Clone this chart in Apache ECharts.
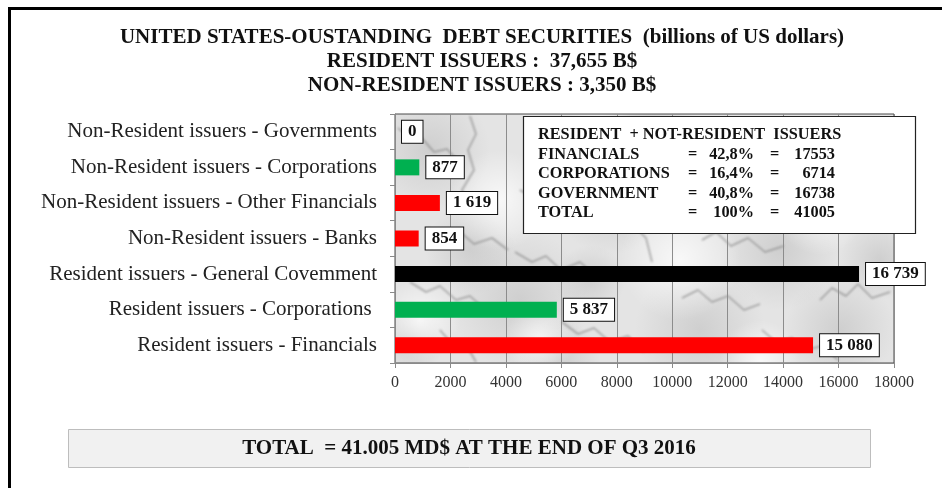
<!DOCTYPE html>
<html>
<head>
<meta charset="utf-8">
<script src="https://cdn.jsdelivr.net/npm/echarts@6/dist/echarts.min.js"></script>
<style>
  html, body { margin: 0; padding: 0; background: #fff; }
  #chart { width: 942px; height: 488px; }
</style>
</head>
<body>
<div id="chart"></div>
<script>
// Categories listed bottom-to-top (category axis starts at the bottom)
const categories = [
  'Resident issuers - Financials',
  'Resident issuers - Corporations ',
  'Resident issuers - General Covemment',
  'Non-Resident issuers - Banks',
  'Non-Resident issuers - Other Financials',
  'Non-Resident issuers - Corporations',
  'Non-Resident issuers - Governments'
];
const amounts = [15080, 5837, 16739, 854, 1619, 877, 0];
const barColors = ['#ff0000', '#00b050', '#000000', '#ff0000', '#ff0000', '#00b050', '#00b050'];
const xTicks = { min: 0, max: 18000, step: 2000 };

const titleLines = [
  'UNITED STATES-OUSTANDING  DEBT SECURITIES  (billions of US dollars)',
  'RESIDENT ISSUERS :  37,655 B$',
  'NON-RESIDENT ISSUERS : 3,350 B$'
];

// Summary table: sector, share, amount
const summaryHeader = 'RESIDENT  + NOT-RESIDENT  ISSUERS';
const summarySectors = ['FINANCIALS', 'CORPORATIONS', 'GOVERNMENT', 'TOTAL'];
const summaryShares = ['42,8%', '16,4%', '40,8%', '100%'];
const summaryAmounts = ['17553', '6714', '16738', '41005'];

const footerText = 'TOTAL  = 41.005 MD$ AT THE END OF Q3 2016';

const SERIF = '"Liberation Serif", "Times New Roman", serif';

// Marble-like texture for the plot background
function marbleCanvas() {
  const c = document.createElement('canvas');
  c.width = 942; c.height = 488;
  const g = c.getContext('2d');
  g.fillStyle = '#e4e4e4';
  g.fillRect(0, 0, 942, 488);
  const blots = [
    [430, 150, 60], [520, 300, 70], [610, 200, 55], [700, 330, 65],
    [780, 250, 60], [860, 160, 50], [470, 250, 45], [840, 330, 55],
    [650, 130, 50], [560, 360, 40], [740, 180, 45], [410, 340, 35],
    [880, 260, 40], [590, 280, 35]
  ];
  blots.forEach(([x, y, r]) => {
    const rg = g.createRadialGradient(x, y, 0, x, y, r);
    rg.addColorStop(0, 'rgba(175,175,175,0.4)');
    rg.addColorStop(1, 'rgba(175,175,175,0)');
    g.fillStyle = rg;
    g.fillRect(x - r, y - r, 2 * r, 2 * r);
  });
  const whites = [[500, 200, 50], [680, 260, 60], [820, 210, 45], [420, 320, 40], [600, 140, 40], [760, 360, 40], [540, 340, 35]];
  whites.forEach(([x, y, r]) => {
    const rg = g.createRadialGradient(x, y, 0, x, y, r);
    rg.addColorStop(0, 'rgba(255,255,255,0.75)');
    rg.addColorStop(1, 'rgba(255,255,255,0)');
    g.fillStyle = rg;
    g.fillRect(x - r, y - r, 2 * r, 2 * r);
  });
  // Crackled veins drawn as short jagged polylines
  const veins = [
    [[398, 128], [412, 140], [420, 136], [434, 152], [447, 149], [462, 166]],
    [[470, 116], [476, 134], [468, 150], [474, 170], [462, 190], [470, 212]],
    [[515, 252], [532, 262], [546, 256], [561, 270], [580, 262], [598, 278]],
    [[605, 182], [614, 198], [628, 204], [632, 224], [646, 238], [652, 262]],
    [[682, 298], [698, 290], [712, 302], [728, 296], [744, 310], [760, 304]],
    [[702, 240], [716, 232], [731, 246], [748, 238], [765, 252], [784, 246]],
    [[820, 300], [832, 288], [846, 296], [858, 284], [872, 298], [890, 292]],
    [[410, 282], [426, 292], [440, 286], [456, 300], [470, 296], [488, 312]],
    [[562, 322], [578, 334], [594, 328], [610, 342], [628, 336], [644, 352]],
    [[750, 140], [764, 152], [778, 148], [790, 162], [806, 158], [822, 174]],
    [[852, 120], [860, 136], [856, 154], [866, 170], [862, 190], [874, 210]],
    [[540, 128], [550, 146], [566, 150], [574, 166], [590, 170], [598, 186]],
    [[428, 228], [444, 236], [458, 230], [474, 244], [492, 238], [508, 250]],
    [[762, 330], [776, 342], [792, 338], [806, 350], [822, 346], [838, 360]],
    [[640, 150], [654, 160], [666, 154], [680, 168], [694, 164], [706, 180]],
    [[520, 190], [534, 198], [538, 214], [552, 222]],
    [[660, 200], [672, 214], [688, 216], [694, 232]],
    [[440, 330], [452, 344], [468, 348], [476, 362]]
  ];
  g.filter = 'blur(1.3px)';
  g.strokeStyle = 'rgba(110,110,110,0.55)';
  g.lineWidth = 1.6;
  g.lineJoin = 'round';
  veins.forEach(v => {
    g.beginPath();
    v.forEach(([x, y], k) => (k ? g.lineTo(x, y) : g.moveTo(x, y)));
    g.stroke();
  });
  g.filter = 'none';
  return c;
}

const fmt = v => String(v).replace(/\B(?=(\d{3})+(?!\d))/g, ' ');

const chart = echarts.init(document.getElementById('chart'), null, { renderer: 'canvas' });

const summaryTop = 135, summaryStep = 19.5;
const summaryFont = 'bold 16.3px ' + SERIF;
const summaryGraphics = [];
summaryGraphics.push({
  type: 'rect', z: 100,
  shape: { x: 523.5, y: 116.5, width: 392, height: 117 },
  style: { fill: '#ffffff', stroke: '#222', lineWidth: 1.2 }
});
summaryGraphics.push({
  type: 'text', z: 101,
  style: { text: summaryHeader, x: 538, y: summaryTop, font: summaryFont, fill: '#111', verticalAlign: 'middle', align: 'left' }
});
summarySectors.forEach((s, i) => {
  const y = summaryTop + summaryStep * (i + 1);
  summaryGraphics.push({
    type: 'text', z: 101,
    style: { text: s, x: 538, y, font: summaryFont, fill: '#111', verticalAlign: 'middle', align: 'left' }
  });
  summaryGraphics.push({
    type: 'text', z: 101,
    style: { text: '=', x: 688, y, font: summaryFont, fill: '#111', verticalAlign: 'middle', align: 'left' }
  });
  summaryGraphics.push({
    type: 'text', z: 101,
    style: { text: summaryShares[i], x: 754, y, font: summaryFont, fill: '#111', verticalAlign: 'middle', align: 'right' }
  });
  summaryGraphics.push({
    type: 'text', z: 101,
    style: { text: '=', x: 770, y, font: summaryFont, fill: '#111', verticalAlign: 'middle', align: 'left' }
  });
  summaryGraphics.push({
    type: 'text', z: 101,
    style: { text: summaryAmounts[i], x: 835, y, font: summaryFont, fill: '#111', verticalAlign: 'middle', align: 'right' }
  });
});

const titleGraphics = titleLines.map((t, i) => ({
  type: 'text', z: 50,
  style: { text: t, x: 482, y: [38, 62, 86][i], font: 'bold 21px ' + SERIF, fill: '#111', align: 'center', verticalAlign: 'middle' }
}));

chart.setOption({
  animation: false,
  backgroundColor: '#ffffff',
  grid: {
    left: 395, right: 48, top: 114, bottom: 125,
    show: true,
    backgroundColor: { image: marbleCanvas(), repeat: 'no-repeat' },
    borderColor: '#4a4a4a',
    borderWidth: 1
  },
  xAxis: {
    type: 'value',
    min: xTicks.min, max: xTicks.max, interval: xTicks.step,
    axisLine: { show: true, lineStyle: { color: '#8a8a8a' } },
    axisTick: { show: true, length: 5, lineStyle: { color: '#8a8a8a' } },
    axisLabel: { margin: 12, fontFamily: SERIF, fontSize: 16, color: '#333', formatter: v => String(v) },
    splitLine: { show: true, lineStyle: { color: '#8c8c8c', width: 1 } }
  },
  yAxis: {
    type: 'category',
    data: categories,
    axisLine: { show: true, lineStyle: { color: '#8a8a8a' } },
    axisTick: { show: true, length: 5, lineStyle: { color: '#8a8a8a' } },
    axisLabel: { margin: 18, fontFamily: SERIF, fontSize: 21, color: '#222' },
    splitLine: { show: false }
  },
  series: [{
    type: 'bar',
    barWidth: 16,
    data: amounts.map((v, i) => ({ value: v, itemStyle: { color: barColors[i] } })),
    label: {
      show: true,
      position: 'right',
      distance: 7,
      formatter: p => fmt(p.value),
      backgroundColor: '#ffffff',
      borderColor: '#111',
      borderWidth: 1,
      padding: [3, 6, 2, 6],
      fontFamily: SERIF,
      fontSize: 17,
      fontWeight: 'bold',
      color: '#111'
    }
  }],
  graphic: [
    {
      type: 'rect', z: 200, silent: true,
      shape: { x: 9.5, y: 8.5, width: 945, height: 495 },
      style: { fill: 'none', stroke: '#000', lineWidth: 3 }
    },
    ...titleGraphics,
    ...summaryGraphics,
    {
      type: 'rect', z: 50,
      shape: { x: 68.5, y: 429.5, width: 802, height: 38 },
      style: { fill: '#f1f1f1', stroke: '#bdbdbd', lineWidth: 1 }
    },
    {
      type: 'text', z: 51,
      style: { text: footerText, x: 469, y: 449, font: 'bold 21px ' + SERIF, fill: '#111', align: 'center', verticalAlign: 'middle' }
    }
  ]
});
</script>
</body>
</html>
